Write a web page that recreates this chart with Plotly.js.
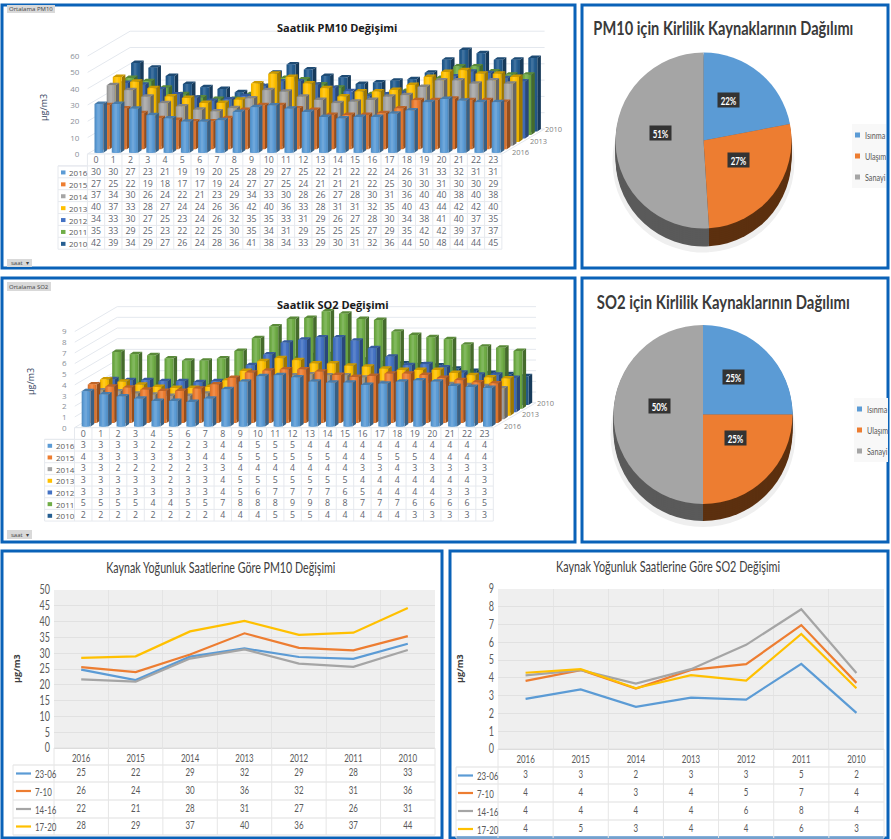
<!DOCTYPE html>
<html><head><meta charset="utf-8">
<script src="https://cdn.plot.ly/plotly-3.0.1.min.js"></script>
<style>html,body{margin:0;padding:0;background:#fff}#g{width:891px;height:839px}</style>
</head><body><div id="g"></div>
<script>
// ---------- data ----------
const hours=[0,1,2,3,4,5,6,7,8,9,10,11,12,13,14,15,16,17,18,19,20,21,22,23];
const barYears=['2016','2015','2014','2013','2012','2011','2010'];
const barColors=['#5b9bd5','#ed7d31','#a5a5a5','#ffc000','#4472c4','#70ad47','#255e91'];
const pm2016=[30,30,27,23,21,19,19,20,25,28,29,27,25,22,21,22,22,24,26,31,33,32,31,31];
const pm2015=[27,25,22,19,18,17,17,19,24,27,27,25,24,21,21,21,22,25,30,30,31,30,30,29];
const pm2014=[37,34,30,26,24,22,21,23,29,34,33,30,28,26,27,28,30,31,36,40,40,38,40,38];
const pm2013=[40,37,33,28,27,24,24,26,36,42,40,36,33,28,31,31,32,35,40,43,44,42,42,40];
const pm2012=[34,33,30,27,25,23,24,26,32,35,35,33,31,29,26,27,28,30,34,38,41,40,37,35];
const pm2011=[35,33,29,25,23,22,22,25,30,35,34,31,29,25,25,25,27,29,35,42,42,39,37,37];
const pm2010=[42,39,34,29,27,26,24,28,36,41,38,34,33,29,30,31,32,36,44,50,48,44,44,45];
const so2Tab2016=[3,3,3,3,2,2,2,3,4,4,5,5,5,4,4,4,4,4,4,4,4,4,4,4];
const so2Tab2015=[4,3,3,3,3,3,3,4,4,5,5,5,5,5,5,4,4,5,5,5,4,4,4,4];
const so2Tab2014=[3,3,2,2,2,2,2,3,3,4,4,4,4,4,4,4,3,3,4,3,3,3,3,3];
const so2Tab2013=[3,3,3,3,3,2,3,3,4,5,5,5,5,5,5,5,4,4,4,4,4,4,4,3];
const so2Tab2012=[3,3,3,3,3,3,3,3,4,5,6,7,7,7,7,6,5,4,4,4,4,3,3,3];
const so2Tab2011=[5,5,5,5,4,4,5,5,7,8,8,8,9,9,8,8,7,7,7,6,6,6,6,5];
const so2Tab2010=[2,2,2,2,2,2,2,2,4,4,4,5,5,5,4,4,4,4,4,3,3,3,3,3];
const so2Bar2016=[3.3,3.0,2.8,2.6,2.4,2.4,2.3,2.6,3.5,4.2,4.7,4.8,4.6,4.2,4.1,4.1,3.9,4.0,4.2,4.3,4.2,3.8,3.7,3.6];
const so2Bar2015=[3.6,3.4,3.3,3.1,3.0,3.0,3.2,3.6,4.2,4.7,4.9,5.0,5.0,4.8,4.5,4.3,4.4,4.6,4.6,4.5,4.2,4.0,3.8,3.7];
const so2Bar2014=[2.7,2.6,2.4,2.3,2.2,2.2,2.4,2.6,3.3,3.6,4.0,4.1,4.2,4.1,4.1,3.9,3.4,3.4,3.5,3.4,3.3,3.2,3.1,2.9];
const so2Bar2013=[3.4,3.2,2.9,2.7,2.6,2.6,2.7,3.3,4.2,5.1,5.4,5.2,4.9,4.9,4.7,4.6,4.4,4.3,4.3,4.3,4.0,3.8,3.6,3.5];
const so2Bar2012=[3.1,3.0,3.0,2.9,2.9,2.8,2.9,3.1,4.4,5.4,6.5,6.8,7.0,7.0,6.7,6.0,5.2,4.4,4.5,4.2,3.7,3.5,3.5,3.2];
const so2Bar2011=[5.3,5.1,5.0,4.7,4.5,4.5,4.7,5.4,6.6,7.7,8.4,8.5,9.1,8.9,8.4,8.3,7.2,6.9,6.7,6.5,6.0,5.8,5.7,5.4];
const so2Bar2010=[2.1,2.0,1.9,1.8,1.8,1.8,1.9,2.3,3.5,4.1,4.4,4.7,4.8,4.6,4.3,4.0,3.9,3.8,3.7,3.4,3.2,3.0,2.9,2.7];
const pieLabels=['Isınma','Ulaşım','Sanayi'];
const piePM=[22,27,51];
const pieSO=[25,25,50];
const pieColors=['#5b9bd5','#ed7d31','#a5a5a5'];
const pieWall=['#3f6a90','#5c300f','#5a5a5a'];
const lineYears=['2016','2015','2014','2013','2012','2011','2010'];
const lineNames=['23-06','7-10','14-16','17-20'];
const lineColors=['#5b9bd5','#ed7d31','#a5a5a5','#ffc000'];
const pmLine1=[24.8,21.5,28.9,31.5,28.8,28.2,33];
const pmLine2=[25.6,24,29.6,36.3,31.7,30.9,35.4];
const pmLine3=[21.7,21,28.3,31.2,26.7,25.7,31];
const pmLine4=[28.5,29,36.9,40.2,35.8,36.5,44.3];
const pmTab1=[25,22,29,32,29,28,33];
const pmTab2=[26,24,30,36,32,31,36];
const pmTab3=[22,21,28,31,27,26,31];
const pmTab4=[28,29,37,40,36,37,44];
const soLine1=[2.82,3.35,2.37,2.89,2.78,4.79,2.03];
const soLine2=[3.83,4.44,3.4,4.45,4.77,6.97,3.72];
const soLine3=[4.14,4.44,3.68,4.49,5.86,7.86,4.27];
const soLine4=[4.29,4.49,3.42,4.15,3.85,6.47,3.42];
const soTab1=[3,3,2,3,3,5,2];
const soTab2=[4,4,3,4,5,7,4];
const soTab3=[4,4,4,4,6,8,4];
const soTab4=[4,5,3,4,4,6,3];
const titleWidths={'PM10 için Kirlilik Kaynaklarının Dağılımı':260,'SO2 için Kirlilik Kaynaklarının Dağılımı':253,
  'Kaynak Yoğunluk Saatlerine Göre PM10 Değişimi':229,'Kaynak Yoğunluk Saatlerine Göre SO2 Değişimi':224};

// ---------- page helpers ----------
const W=891,H=839;
const traces=[],shapes=[],annotations=[];
const layout={width:W,height:H,margin:{l:0,r:0,t:0,b:0},paper_bgcolor:'#fff',plot_bgcolor:'rgba(0,0,0,0)',showlegend:false,font:{family:'Open Sans, sans-serif'},
  xaxis7:{domain:[0,1],range:[0,W],visible:false,fixedrange:true},
  yaxis7:{domain:[0,1],range:[H,0],visible:false,fixedrange:true,anchor:'x7'}};
const NARROW='Lato, sans-serif';
const rect=(x0,y0,x1,y1,o)=>shapes.push(Object.assign({type:'rect',xref:'x7',yref:'y7',x0,y0,x1,y1,line:{width:0}},o||{}));
const seg=(x0,y0,x1,y1,color,w)=>shapes.push({type:'line',xref:'x7',yref:'y7',x0,y0,x1,y1,line:{color:color||'#e6e9ee',width:w||1}});
const note=(x,y,text,o)=>annotations.push(Object.assign({xref:'x7',yref:'y7',x,y,text,showarrow:false,xanchor:'center',yanchor:'middle'},o||{}));
function textTrace(xs,ys,txt,size,color,family,pos){
  traces.push({type:'scatter',mode:'text',xaxis:'x7',yaxis:'y7',x:xs,y:ys,text:txt,textposition:pos||'middle center',
    textfont:{size,color,family:family||'Open Sans, sans-serif'},hoverinfo:'skip',cliponaxis:false});
}
function panel(x0,y0,x1,y1){rect(x0,y0,x1,y1,{line:{color:'#0a62b8',width:3}});}
panel(2,5,575,268);panel(2,278,575,542);panel(582,5,888,268);panel(582,278,888,542);panel(2,551,442,838);panel(450,551,888,838);

// ---------- pseudo-3D bar charts, projected through the axes' own scales ----------
function shade(hex,f){const n=parseInt(hex.slice(1),16);let c=[n>>16,(n>>8)&255,n&255].map(v=>Math.round(f>1?v+(255-v)*(f-1):v*f));return 'rgb('+c.join(',')+')';}
function bar3d(idx,cfg,series,tabSeries,ticks,title,titleX,titleY,unitX,unitY){
  const xa='xaxis'+idx,ya='yaxis'+idx,xr='x'+idx,yr='y'+idx;
  const {left,cell,base,ppu,rightPx,topPx}=cfg;
  layout[xa]={domain:[left/W,rightPx/W],range:[-0.5,-0.5+(rightPx-left)/cell],visible:false,fixedrange:true,anchor:yr};
  layout[ya]={domain:[1-base/H,1-topPx/H],range:[0,(base-topPx)/ppu],anchor:xr,fixedrange:true,tickmode:'array',tickvals:ticks,ticktext:ticks.map(String),
    showgrid:false,zeroline:false,showline:false,ticks:'',tickfont:{size:8,color:'#8a8f98'},ticklabelstandoff:7};
  const slotX=6.1/cell, slotY=3.57/ppu, wallX=42.7/cell, wallY=25/ppu;
  const gx=[],gy=[];
  ticks.forEach(v=>{gx.push(-0.5,-0.5+wallX,23.5+wallX,null);gy.push(v,v+wallY,v+wallY,null);});
  gx.push(23.5,23.5+wallX,null,-0.5,23.5);gy.push(0,wallY,null,0,0);
  traces.push({type:'scatter',mode:'lines',xaxis:xr,yaxis:yr,x:gx,y:gy,line:{color:'#e4e8ee',width:1},hoverinfo:'skip',cliponaxis:false});
  const w=9/cell, dx=3.6/cell, dy=2.5/ppu;
  for(let s=series.length-1;s>=0;s--){
    const vals=series[s],col=barColors[s];
    const f={x:[],y:[]},si={x:[],y:[]},to={x:[],y:[]},hi={x:[],y:[]},hi2={x:[],y:[]};
    vals.forEach((v,h)=>{
      const x0=hours[h]-0.09+s*slotX, y0=(1.2/ppu)+s*slotY, x1=x0+w, yt=y0+v;
      f.x.push(x0,x1,x1,x0,x0,null);f.y.push(y0,y0,yt,yt,y0,null);
      si.x.push(x1,x1+dx,x1+dx,x1,x1,null);si.y.push(y0,y0+dy,yt+dy,yt,y0,null);
      to.x.push(x0,x1,x1+dx,x0+dx,x0,null);to.y.push(yt,yt,yt+dy,yt+dy,yt,null);
      let a=x0+w*0.15,b=x0+w*0.8;
      hi.x.push(a,b,b,a,a,null);hi.y.push(y0,y0,yt,yt,y0,null);
      a=x0+w*0.3;b=x0+w*0.6;
      hi2.x.push(a,b,b,a,a,null);hi2.y.push(y0,y0,yt,yt,y0,null);
    });
    const add=(p,c,name)=>traces.push({type:'scatter',mode:'lines',name,xaxis:xr,yaxis:yr,x:p.x,y:p.y,fill:'toself',fillcolor:c,line:{width:0,color:c},hoverinfo:'skip',cliponaxis:false});
    add(si,shade(col,0.62),barYears[s]+' side');
    add(to,shade(col,0.8),barYears[s]+' top');
    add(f,shade(col,0.92),barYears[s]);
    add(hi,col,barYears[s]+' mid');
    add(hi2,shade(col,1.12),barYears[s]+' light');
  }
  const tb=cfg.table, rowH=tb.rowH, right=left+24*cell, lab=tb.labelX;
  const txs=[],tys=[],tts=[];
  for(let r=0;r<=8;r++){const yy=base+r*rowH;seg(r==0?left:lab,yy,right,yy);if(r==0)seg(lab,base+rowH,left,base+rowH);}
  seg(lab,base+rowH,lab,base+8*rowH);
  for(let c=0;c<=24;c++)seg(left+c*cell,base,left+c*cell,base+8*rowH);
  hours.forEach((h,c)=>{txs.push(left+(c+.5)*cell);tys.push(base+.58*rowH);tts.push(String(h));});
  tabSeries.forEach((vals,r)=>{
    const cy=base+(r+1.55)*rowH;
    vals.forEach((v,c)=>{txs.push(left+(c+.5)*cell);tys.push(cy);tts.push(String(v));});
    rect(lab+3,cy-2,lab+7.5,cy+2,{fillcolor:barColors[r]});
    note(lab+9,cy,barYears[r],{xanchor:'left',font:{size:8,color:'#595959'}});
  });
  textTrace(txs,tys,tts,8.8,'#5f6670');
  note(titleX,titleY,title,{font:{size:11,color:'#1a1a1a',family:'Open Sans, sans-serif',weight:700}});
  note(unitX,unitY,'µg/m3',{textangle:-90,font:{size:9,color:'#33415c'}});
  cfg.depth.forEach(d=>note(d[0],d[1],d[2],{font:{size:7.5,color:'#7f7f7f'}}));
}
bar3d(1,{left:87.4,cell:17.27,base:154,ppu:1.63,rightPx:570,topPx:10,table:{rowH:11.9,labelX:58},
  depth:[[520,152,'2016'],[538,141,'2013'],[553,129,'2010']]},
  [pm2016,pm2015,pm2014,pm2013,pm2012,pm2011,pm2010],[pm2016,pm2015,pm2014,pm2013,pm2012,pm2011,pm2010],
  [0,10,20,30,40,50,60],'Saatlik PM10 Değişimi',337,27,43,108);
bar3d(2,{left:74.5,cell:17.45,base:427.7,ppu:10.67,rightPx:570,topPx:285,table:{rowH:11.67,labelX:44.6},
  depth:[[512,426,'2016'],[530,414,'2013'],[545,403,'2010']]},
  [so2Bar2016,so2Bar2015,so2Bar2014,so2Bar2013,so2Bar2012,so2Bar2011,so2Bar2010],[so2Tab2016,so2Tab2015,so2Tab2014,so2Tab2013,so2Tab2012,so2Tab2011,so2Tab2010],
  [0,1,2,3,4,5,6,7,8,9],'Saatlik SO2 Değişimi',333,304,30,382);

function button(x0,y0,x1,y1,t,sz){rect(x0,y0,x1,y1,{fillcolor:'#d9d9d9'});note((x0+x1)/2,(y0+y1)/2,t,{font:{size:sz,color:'#444'}});}
button(7,5,55,13,'Ortalama PM10',6);button(7,259,32,267,'saat  ▾',6);
button(7,282,51,291,'Ortalama SO2',6);button(7,530,32,539,'saat  ▾',6);

// ---------- pies ----------
function pie(vals,cx,cy,r,depth,title,titleX,titleY,labelPos,legX,legY){
  const dom=(ox,oy,rr)=>({x:[(cx+ox-rr)/W,(cx+ox+rr)/W],y:[1-(cy+oy+rr)/H,1-(cy+oy-rr)/H]});
  const base={type:'pie',values:vals,labels:pieLabels,sort:false,direction:'clockwise',rotation:0,textinfo:'none',hoverinfo:'label+percent',showlegend:false};
  traces.push(Object.assign({},base,{domain:dom(0,depth+3,r+3),marker:{colors:['#efefef','#efefef','#efefef']}}));
  for(let d=depth;d>0;d-=2)traces.push(Object.assign({},base,{domain:dom(0,d,r),marker:{colors:pieWall}}));
  traces.push(Object.assign({},base,{domain:dom(0,0,r),marker:{colors:pieColors}}));
  vals.forEach((v,i)=>note(labelPos[i][0],labelPos[i][1],v+'%',{bgcolor:'#333333',width:21,height:14,align:'center',valign:'middle',borderpad:0,font:{size:11,color:'#fff',family:NARROW,weight:700}}));
  note(titleX,titleY,title,{font:{size:18,color:'#3a3a3a',family:NARROW,weight:700}});
  rect(legX-6,legY-11,legX+28,legY+53,{fillcolor:'#f8f8f8'});
  pieLabels.forEach((l,i)=>{
    const y=legY+i*21;
    rect(legX-3,y-2.5,legX+2,y+2.5,{fillcolor:pieColors[i]});
    note(legX+5,y,l,{xanchor:'left',font:{size:9,color:'#595959',family:NARROW}});
  });
}
pie(piePM,703.5,140.5,88,18,'PM10 için Kirlilik Kaynaklarının Dağılımı',723,28,[[728,100],[738,160],[660,133]],858,135);
pie(pieSO,703,414.5,89.5,17,'SO2 için Kirlilik Kaynaklarının Dağılımı',723,302,[[733,377],[735,438],[659,406]],860,409);

// ---------- line charts ----------
function lineChart(idx,px0,px1,py0,py1,ymax,dtick,lines,tabs,title,titleX,titleY,rowsY,labX,swX,unitX,unitY){
  const xr='x'+idx,yr='y'+idx;
  layout['xaxis'+idx]={domain:[px0/W,px1/W],type:'category',range:[-0.5,6.5],anchor:yr,fixedrange:true,tickson:'boundaries',ticks:'',showgrid:true,gridcolor:'#e4e4e4',gridwidth:1,
    tickfont:{size:11,color:'#595959',family:NARROW},showline:true,linecolor:'#d9d9d9',automargin:false};
  layout['yaxis'+idx]={domain:[1-py1/H,1-py0/H],range:[0,ymax],dtick,anchor:xr,fixedrange:true,showgrid:true,gridcolor:'#e1e1e1',zeroline:false,ticks:'',
    tickfont:{size:12.5,color:'#595959',family:NARROW},ticklabelstandoff:3};
  shapes.push({type:'rect',xref:'paper',yref:'paper',x0:px0/W,x1:px1/W,y0:1-py1/H,y1:1-py0/H,fillcolor:'#efefef',line:{width:0},layer:'below'});
  lines.forEach((vals,i)=>traces.push({type:'scatter',mode:'lines',name:lineNames[i],xaxis:xr,yaxis:yr,x:lineYears,y:vals,line:{color:lineColors[i],width:2.2},cliponaxis:false}));
  const cw=(px1-px0)/7,txs=[],tys=[],tts=[];
  rowsY.forEach((y,r)=>{seg(r==0?px0:labX,y,px1,y,'#e0e0e0',r==0?1:1.2);});
  for(let c=0;c<=7;c++)seg(px0+c*cw,rowsY[0],px0+c*cw,rowsY[rowsY.length-1],'#e6e6e6');
  seg(labX,rowsY[1],labX,rowsY[rowsY.length-1],'#e6e6e6');
  tabs.forEach((vals,r)=>{
    const cy=(rowsY[r+1]+rowsY[r+2])/2;
    vals.forEach((v,c)=>{txs.push(px0+(c+.5)*cw);tys.push(cy);tts.push(String(v));});
    seg(swX,cy,swX+15,cy,lineColors[r],2.2);
    note(swX+17,cy,lineNames[r],{xanchor:'left',font:{size:11,color:'#595959',family:NARROW}});
  });
  textTrace(txs,tys,tts,11,'#595959',NARROW);
  note(titleX,titleY,title,{font:{size:15,color:'#404040',family:NARROW}});
  note(unitX,unitY,'µg/m3',{textangle:-90,font:{size:9,color:'#404040',weight:700}});
}
lineChart(3,54,435,590,748,50,5,[pmLine1,pmLine2,pmLine3,pmLine4],[pmTab1,pmTab2,pmTab3,pmTab4],'Kaynak Yoğunluk Saatlerine Göre PM10 Değişimi',221,567,[748,765,782,800,818,835],13,16,16,669);
lineChart(4,498,884,589,749,9,1,[soLine1,soLine2,soLine3,soLine4],[soTab1,soTab2,soTab3,soTab4],'Kaynak Yoğunluk Saatlerine Göre SO2 Değişimi',668,566,[749,767,784,802,820,838],456,458,459,669);

layout.shapes=shapes;layout.annotations=annotations;
Plotly.newPlot('g',traces,layout,{displayModeBar:false,staticPlot:true}).then(()=>{
  // the reference uses a condensed face: narrow the Lato texts glyph by glyph
  const leftAnchored=new Set(pieLabels.concat(lineNames));
  document.querySelectorAll('#g svg text').forEach(t=>{
    if(!(t.style.fontFamily||'').includes('Lato'))return;
    const txt=t.textContent, len=t.getComputedTextLength();
    if(!len)return;
    const target=titleWidths[txt]||len*(pieLabels.includes(txt)?0.8:0.72);
    t.setAttribute('lengthAdjust','spacingAndGlyphs');
    t.setAttribute('textLength',String(target));
    if(leftAnchored.has(txt)){
      const x=parseFloat(t.getAttribute('x'))||0;
      t.setAttribute('x',String(x-(len-target)/2));
    }
  });
});
</script></body></html>
